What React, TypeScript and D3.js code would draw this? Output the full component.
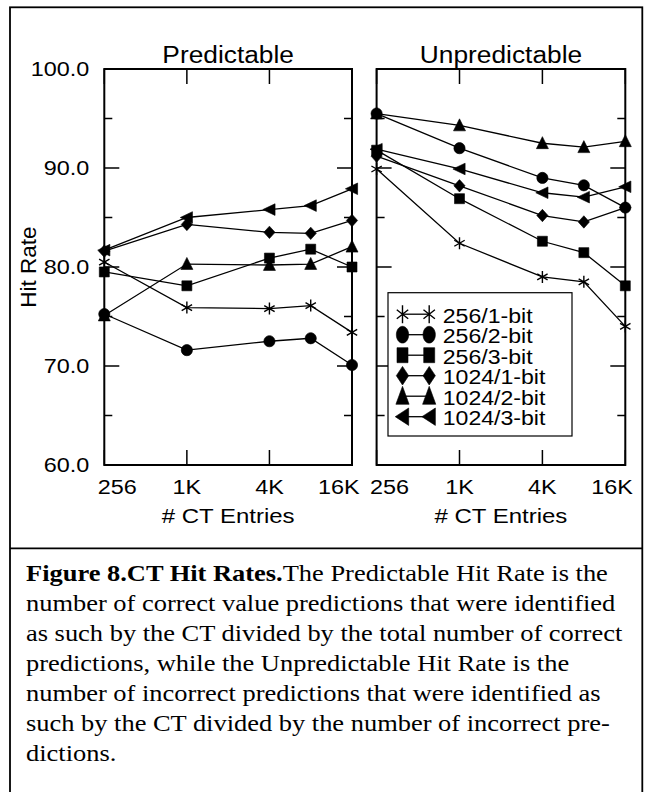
import React from 'react';
import * as d3 from 'd3';

// CT size on the x axis (log2 spaced), hit rate (%) on the y axis
const ctEntries = [256, 1024, 4096, 8192, 16384];
const xTickValues = [256, 1024, 4096, 16384];
const xTickLabels = ['256', '1K', '4K', '16K'];
const yMajorTicks = [60, 70, 80, 90, 100];
const yMinorTicks = [65, 75, 85, 95];

const seriesNames = ['256/1-bit', '256/2-bit', '256/3-bit', '1024/1-bit', '1024/2-bit', '1024/3-bit'];
const seriesMarkers = ['asterisk', 'circle', 'square', 'diamond', 'triangle', 'triangleLeft'];

// Predictable hit rate
const predictable256x1 = [80.5, 75.9, 75.8, 76.1, 73.4];
const predictable256x2 = [75.25, 71.6, 72.5, 72.8, 70.1];
const predictable256x3 = [79.5, 78.1, 80.9, 81.8, 80.0];
const predictable1024x1 = [81.6, 84.3, 83.5, 83.4, 84.7];
const predictable1024x2 = [75.1, 80.3, 80.2, 80.3, 82.05];
const predictable1024x3 = [81.7, 85.0, 85.8, 86.2, 87.9];

// Unpredictable hit rate
const unpredictable256x1 = [89.9, 82.4, 79.0, 78.5, 74.0];
const unpredictable256x2 = [95.5, 92.0, 89.0, 88.25, 86.0];
const unpredictable256x3 = [91.8, 86.9, 82.6, 81.45, 78.1];
const unpredictable1024x1 = [91.2, 88.2, 85.2, 84.55, 86.0];
const unpredictable1024x2 = [95.5, 94.3, 92.5, 92.1, 92.7];
const unpredictable1024x3 = [91.9, 89.9, 87.5, 87.05, 88.1];

const panelTitles = ['Predictable', 'Unpredictable'];
const panelSeries = [
  [predictable256x1, predictable256x2, predictable256x3, predictable1024x1, predictable1024x2, predictable1024x3],
  [unpredictable256x1, unpredictable256x2, unpredictable256x3, unpredictable1024x1, unpredictable1024x2, unpredictable1024x3],
];

const captionBold = 'Figure 8.CT Hit Rates.';
const captionLines = [
  'The Predictable Hit Rate is the',
  'number of correct value predictions that were identified',
  'as such by the CT divided by the total number of correct',
  'predictions, while the Unpredictable Hit Rate is the',
  'number of incorrect predictions that were identified as',
  'such by the CT divided by the number of incorrect pre-',
  'dictions.',
];

const SANS = '"Liberation Sans", Arial, Helvetica, sans-serif';
const SERIF = '"Liberation Serif", "Times New Roman", serif';

const W = 645;
const H = 792;
const panelRanges: [number, number][] = [
  [104.3, 352],
  [376.6, 625.3],
];
const yScale = d3.scaleLinear().domain([60, 100]).range([465, 69]);

function markerPath(kind: string, sx = 1, sy = 1): string {
  const p = d3.path();
  const pt = (x: number, y: number) => [x * sx, y * sy] as [number, number];
  switch (kind) {
    case 'circle': {
      const rx = 5.6 * sx;
      const ry = 5.6 * sy;
      const k = 0.5523;
      p.moveTo(rx, 0);
      p.bezierCurveTo(rx, ry * k, rx * k, ry, 0, ry);
      p.bezierCurveTo(-rx * k, ry, -rx, ry * k, -rx, 0);
      p.bezierCurveTo(-rx, -ry * k, -rx * k, -ry, 0, -ry);
      p.bezierCurveTo(rx * k, -ry, rx, -ry * k, rx, 0);
      p.closePath();
      break;
    }
    case 'square': {
      const a = pt(-5, -5), b = pt(5, -5), c = pt(5, 5), d = pt(-5, 5);
      p.moveTo(...a); p.lineTo(...b); p.lineTo(...c); p.lineTo(...d); p.closePath();
      break;
    }
    case 'diamond': {
      p.moveTo(...pt(0, -6.2)); p.lineTo(...pt(5.6, 0)); p.lineTo(...pt(0, 6.2)); p.lineTo(...pt(-5.6, 0)); p.closePath();
      break;
    }
    case 'triangle': {
      p.moveTo(...pt(0, -6.6)); p.lineTo(...pt(6, 5.4)); p.lineTo(...pt(-6, 5.4)); p.closePath();
      break;
    }
    case 'triangleLeft': {
      p.moveTo(...pt(-6.6, 0)); p.lineTo(...pt(5.6, -5.8)); p.lineTo(...pt(5.6, 5.8)); p.closePath();
      break;
    }
    case 'asterisk': {
      const r = 6;
      const c30 = Math.cos(Math.PI / 6) * r;
      const s30 = Math.sin(Math.PI / 6) * r;
      p.moveTo(...pt(0, -r)); p.lineTo(...pt(0, r));
      p.moveTo(...pt(-c30, -s30)); p.lineTo(...pt(c30, s30));
      p.moveTo(...pt(-c30, s30)); p.lineTo(...pt(c30, -s30));
      break;
    }
  }
  return p.toString();
}

function Marker({ kind, x, y, sx = 1, sy = 1 }: { kind: string; x: number; y: number; sx?: number; sy?: number }) {
  const isStroke = kind === 'asterisk';
  return (
    <path
      d={markerPath(kind, sx, sy)}
      transform={`translate(${x},${y})`}
      fill={isStroke ? 'none' : '#000'}
      stroke="#000"
      strokeWidth={isStroke ? 1.4 : 0.6}
    />
  );
}

function WideText({
  x, y, children, size, sx, anchor = 'start', family = SANS, weight,
}: {
  x: number; y: number; children: React.ReactNode; size: number; sx: number; anchor?: string; family?: string; weight?: string;
}) {
  return (
    <text
      transform={`translate(${x},${y}) scale(${sx},1)`}
      fontSize={size}
      fontFamily={family}
      fontWeight={weight}
      textAnchor={anchor}
      fill="#000"
    >
      {children}
    </text>
  );
}

function Panel({ index }: { index: number }) {
  const [x0, x1] = panelRanges[index];
  const xScale = d3.scaleLog().base(2).domain([256, 16384]).range([x0, x1]);
  const [yBottom, yTop] = yScale.range();
  const line = d3
    .line<number>()
    .x((_, i) => xScale(ctEntries[i]))
    .y((v) => yScale(v));
  const cx = (x0 + x1) / 2;

  return (
    <g>
      {/* series lines */}
      {panelSeries[index].map((vals, s) => (
        <path key={`l${s}`} d={line(vals) || ''} fill="none" stroke="#000" strokeWidth={1.3} />
      ))}
      {/* axis box */}
      <rect x={x0} y={yTop} width={x1 - x0} height={yBottom - yTop} fill="none" stroke="#000" strokeWidth={2} />
      {/* y ticks, inside on both sides */}
      {yMajorTicks.map((t) => (
        <g key={`ym${t}`}>
          <line x1={x0} x2={x0 + 15} y1={yScale(t)} y2={yScale(t)} stroke="#000" strokeWidth={1.5} />
          <line x1={x1} x2={x1 - 15} y1={yScale(t)} y2={yScale(t)} stroke="#000" strokeWidth={1.5} />
        </g>
      ))}
      {yMinorTicks.map((t) => (
        <g key={`yn${t}`}>
          <line x1={x0} x2={x0 + 8} y1={yScale(t)} y2={yScale(t)} stroke="#000" strokeWidth={1.5} />
          <line x1={x1} x2={x1 - 8} y1={yScale(t)} y2={yScale(t)} stroke="#000" strokeWidth={1.5} />
        </g>
      ))}
      {/* x ticks, inside on top and bottom */}
      {xTickValues.map((t) => (
        <g key={`xt${t}`}>
          <line x1={xScale(t)} x2={xScale(t)} y1={yBottom} y2={yBottom - 15} stroke="#000" strokeWidth={1.5} />
          <line x1={xScale(t)} x2={xScale(t)} y1={yTop} y2={yTop + 15} stroke="#000" strokeWidth={1.5} />
        </g>
      ))}
      {/* markers */}
      {panelSeries[index].map((vals, s) =>
        vals.map((v, i) => (
          <Marker key={`m${s}-${i}`} kind={seriesMarkers[s]} x={xScale(ctEntries[i])} y={yScale(v)} />
        ))
      )}
      {/* x tick labels */}
      {xTickValues.map((t, i) => {
        const last = i === xTickValues.length - 1;
        const first = i === 0;
        const x = first ? xScale(t) - 6.5 : last ? xScale(t) + 7.5 : xScale(t);
        return (
          <WideText key={`xl${t}`} x={x} y={494} size={19.5} sx={1.2} anchor={first ? 'start' : last ? 'end' : 'middle'}>
            {xTickLabels[i]}
          </WideText>
        );
      })}
      {/* y tick labels on the first panel */}
      {index === 0 &&
        yMajorTicks.map((t) => (
          <WideText key={`yl${t}`} x={89.3} y={yScale(t) + 7} size={19.5} sx={1.2} anchor="end">
            {t.toFixed(1)}
          </WideText>
        ))}
      <WideText x={cx} y={62.7} size={23.5} sx={1.12} anchor="middle">
        {panelTitles[index]}
      </WideText>
      <WideText x={cx} y={523} size={20.5} sx={1.17} anchor="middle">
        # CT Entries
      </WideText>
    </g>
  );
}

function Legend() {
  const left = 388;
  const top = 292.7;
  return (
    <g>
      <rect x={left} y={top} width={184} height={143.3} fill="#fff" stroke="#000" strokeWidth={1.2} />
      {seriesNames.map((name, i) => {
        const base = 322.7 + i * 20.5;
        const my = base - 8.5;
        return (
          <g key={name}>
            <line x1={402.5} x2={429.2} y1={my} y2={my} stroke="#000" strokeWidth={1.3} />
            <Marker kind={seriesMarkers[i]} x={402.5} y={my} sx={1.1} sy={1.5} />
            <Marker kind={seriesMarkers[i]} x={429.2} y={my} sx={1.1} sy={1.5} />
            <WideText x={442.7} y={base} size={21} sx={1.1}>
              {name}
            </WideText>
          </g>
        );
      })}
    </g>
  );
}

export default function App() {
  return (
    <svg
      width={W}
      height={H}
      viewBox={`0 0 ${W} ${H}`}
      style={{ position: 'absolute', left: 0, top: 0, background: '#fff' }}
    >
      <rect x={0} y={0} width={W} height={H} fill="#fff" />
      {/* figure frame and caption divider */}
      <rect x={10} y={7.3} width={632.3} height={820} fill="none" stroke="#000" strokeWidth={1.8} />
      <line x1={10} x2={642.3} y1={548.3} y2={548.3} stroke="#000" strokeWidth={1.8} />

      <Panel index={0} />
      <Panel index={1} />
      <Legend />

      <text
        transform="translate(28,267) rotate(-90)"
        fontSize={22.5}
        fontFamily={SANS}
        textAnchor="middle"
        dominantBaseline="central"
        fill="#000"
      >
        Hit Rate
      </text>

      {captionLines.map((ln, i) => (
        <text
          key={i}
          transform={`translate(26,${581 + i * 30}) scale(1.15,1)`}
          fontSize={23}
          fontFamily={SERIF}
          fill="#000"
        >
          {i === 0 && <tspan fontWeight="bold">{captionBold}</tspan>}
          {ln}
        </text>
      ))}
    </svg>
  );
}
